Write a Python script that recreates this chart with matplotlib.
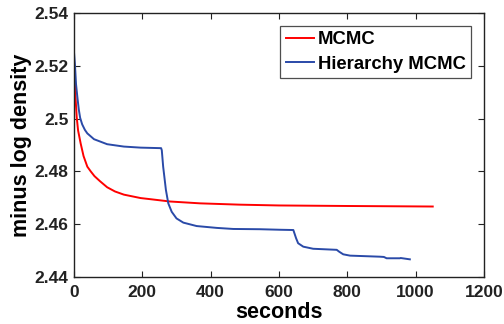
import matplotlib as mpl
import matplotlib.pyplot as plt

# values
mcmc_t = [0, 2, 4, 8, 12, 19.5, 28, 39, 49, 60, 76, 97, 120, 146, 195, 222,
          281, 369, 486, 600, 800, 1050]
mcmc_y = [2.522, 2.5155, 2.509, 2.5005, 2.4955, 2.4906, 2.4858, 2.4818,
          2.4800, 2.4782, 2.4763, 2.4740, 2.4724, 2.4712, 2.4699, 2.4695,
          2.4686, 2.4679, 2.4674, 2.4671, 2.4669, 2.4667]

hier_t = [0, 3, 6, 10, 14, 18, 24, 32, 39, 58.5, 97, 146, 195, 255, 257,
          261, 269, 276, 286, 300, 320, 359, 418, 466, 544, 603, 642, 650,
          656, 671, 700, 769, 776, 788, 808, 895, 907, 915, 954, 956, 983]
hier_y = [2.5252, 2.5200, 2.5130, 2.5080, 2.5035, 2.5003, 2.4978, 2.4957,
          2.4944, 2.4922, 2.4903, 2.4894, 2.4890, 2.4888, 2.4880, 2.4818,
          2.4730, 2.4679, 2.4647, 2.4622, 2.4606, 2.4593, 2.4586, 2.4582,
          2.4581, 2.4579, 2.4578, 2.4547, 2.4528, 2.4515, 2.4507, 2.4503,
          2.4496, 2.4486, 2.4481, 2.4477, 2.4476, 2.4471, 2.4471, 2.4472,
          2.4467]

x_ticks = [0, 200, 400, 600, 800, 1000, 1200]
y_ticks = [2.44, 2.46, 2.48, 2.5, 2.52, 2.54]
y_tick_labels = ["2.44", "2.46", "2.48", "2.5", "2.52", "2.54"]

mpl.rcParams.update(
    {
        "font.family": ["Liberation Sans", "DejaVu Sans"],
        "font.weight": "bold",
        "xtick.direction": "in",
        "ytick.direction": "in",
        "xtick.top": True,
        "ytick.right": True,
    }
)

fig = plt.figure(figsize=(5.04, 3.24), dpi=100)
ax = fig.add_axes([0.1468, 0.145, 0.8135, 0.815])

ax.plot(mcmc_t, mcmc_y, color="#ff0000", linewidth=1.4, label="MCMC")
ax.plot(hier_t, hier_y, color="#2a4aa8", linewidth=1.4, label="Hierarchy MCMC")

ax.set_xlim(0, 1200)
ax.set_ylim(2.44, 2.54)
ax.set_xticks(x_ticks)
ax.set_xticklabels([str(t) for t in x_ticks])
ax.set_yticks(y_ticks)
ax.set_yticklabels(y_tick_labels)
ax.tick_params(labelsize=12.5, length=4, width=0.8, colors="#222222")
ax.tick_params(axis="x", pad=6)
ax.tick_params(axis="y", pad=4)
for side in ax.spines.values():
    side.set_linewidth(1.0)
    side.set_color("#222222")

ax.set_xlabel("seconds", fontsize=15.5, fontweight="bold", labelpad=1)
ax.set_ylabel("minus log density", fontsize=15.5, fontweight="bold", labelpad=1.5)

leg = ax.legend(loc="upper right", fontsize=13.3, frameon=True, fancybox=False,
                edgecolor="#222222", handlelength=1.55, handletextpad=0.17,
                borderpad=0.3, labelspacing=0.4, borderaxespad=0.7)
leg.get_frame().set_linewidth(0.9)
for t in leg.get_texts():
    t.set_fontweight("bold")

fig.savefig("out.png", dpi=100)
